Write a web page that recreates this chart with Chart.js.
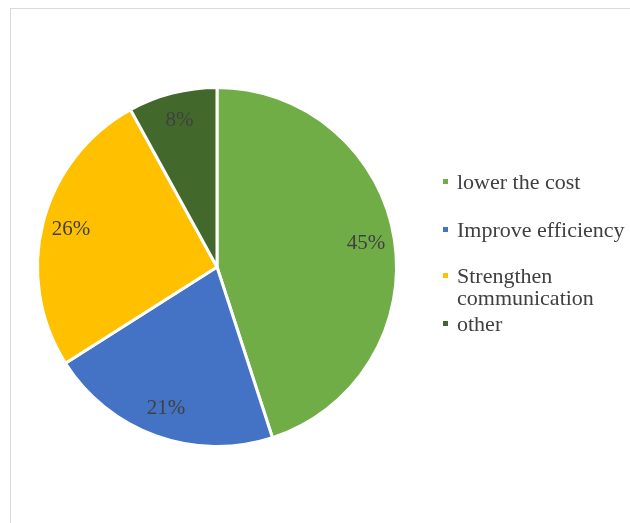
<!DOCTYPE html>
<html>
<head>
<meta charset="utf-8">
<script src="https://cdn.jsdelivr.net/npm/chart.js@4/dist/chart.umd.min.js"></script>
<style>
  html, body { margin: 0; padding: 0; background: #fff; overflow: hidden; }
  #frame {
    position: absolute; left: 10px; top: 8px;
    width: 630px; height: 523px;
    border: 1px solid #d9d9d9;
    background: #fff;
  }
  #wrap { position: absolute; left: 0; top: 0; width: 620px; height: 514px; }
</style>
</head>
<body>
<div id="frame"><div id="wrap"><canvas id="pieChart"></canvas></div></div>
<script>
var categories = ['lower the cost', 'Improve efficiency', 'Strengthen communication', 'other'];
var shares = [45, 21, 26, 8];
var sliceColors = ['#70AD47', '#4472C4', '#FFC000', '#43682B'];

// percent labels inside each slice
var sliceLabels = {
    id: 'sliceLabels',
    afterDatasetsDraw: function(chart) {
        var ctx = chart.ctx;
        var meta = chart.getDatasetMeta(0);
        ctx.save();
        ctx.font = '21px "Liberation Serif", "Times New Roman", serif';
        ctx.fillStyle = '#404040';
        ctx.textAlign = 'center';
        ctx.textBaseline = 'middle';
        meta.data.forEach(function(arc, i) {
            var p = arc.getProps(['x', 'y', 'startAngle', 'endAngle', 'outerRadius'], true);
            var mid = (p.startAngle + p.endAngle) / 2;
            var r = p.outerRadius * 0.84;
            ctx.fillText(shares[i] + '%', p.x + Math.cos(mid) * r, p.y + Math.sin(mid) * r);
        });
        ctx.restore();
    }
};

// legend on the right, with wrapping like the original
var sideLegend = {
    id: 'sideLegend',
    afterDraw: function(chart, args, opts) {
        var ctx = chart.ctx;
        ctx.save();
        ctx.font = '22px "Liberation Serif", "Times New Roman", serif';
        ctx.textBaseline = 'middle';
        ctx.textAlign = 'left';
        chart.data.labels.forEach(function(label, i) {
            var y = opts.rows[i];
            ctx.fillStyle = sliceColors[i];
            ctx.fillRect(opts.x, y - 4, 5, 5);
            ctx.fillStyle = '#404040';
            var words = label.split(' ');
            var line = '';
            var lines = [];
            words.forEach(function(w) {
                var test = line ? line + ' ' + w : w;
                if (line && ctx.measureText(test).width > opts.maxWidth) {
                    lines.push(line);
                    line = w;
                } else {
                    line = test;
                }
            });
            lines.push(line);
            lines.forEach(function(l, k) {
                ctx.fillText(l, opts.x + 14, y + k * 22);
            });
        });
        ctx.restore();
    }
};

var ctx = document.getElementById('pieChart').getContext('2d');
var config = {
    type: 'pie',
    data: {
        labels: categories,
        datasets: [{
            data: shares,
            backgroundColor: sliceColors,
            borderColor: '#ffffff',
            borderWidth: 3
        }]
    },
    options: {
        responsive: true,
        maintainAspectRatio: false,
        animation: false,
        layout: {
            padding: { left: 25, top: 77, right: 233, bottom: 75 }
        },
        plugins: {
            legend: { display: false },
            tooltip: { enabled: false },
            sideLegend: { x: 432, rows: [174, 222, 268, 316], maxWidth: 172 }
        }
    },
    plugins: [sliceLabels, sideLegend]
};
var myPie = new Chart(ctx, config);
</script>
</body>
</html>
